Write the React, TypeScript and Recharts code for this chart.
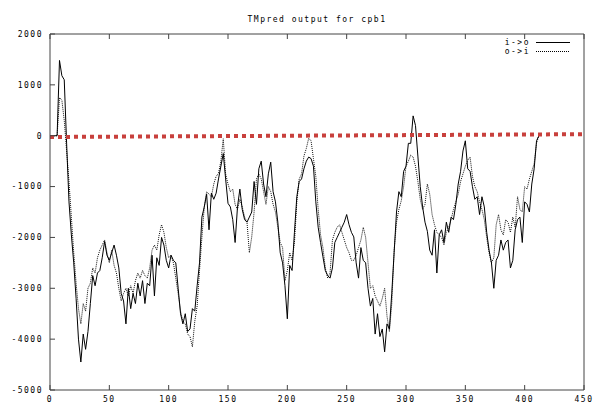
import React from 'react';
import { LineChart, Line, XAxis, YAxis, ReferenceLine } from 'recharts';

// TMpred profile, sampled every 2 residues (0..412)
const ioValues = [
  0, 0, 0, 0, 1480, 1180, 1100, -150, -1300, -1950,
  -2500, -3200, -4000, -4450, -3900, -4200, -3850, -3300, -2750, -2950,
  -2700, -2650, -2400, -2080, -2350, -2450, -2300, -2150, -2350, -2600,
  -3100, -3250, -3700, -3000, -3400, -3100, -3300, -2900, -3150, -2850,
  -3300, -2900, -2950, -2350, -3150, -2400, -2550, -2000, -2150, -2450,
  -2600, -2350, -2450, -2500, -3000, -3500, -3700, -3500, -3850, -3800,
  -3400, -3450, -2950, -2500, -1600, -1400, -1150, -1850, -1130, -1250,
  -1130, -850, -600, -350, -850, -1330, -1400, -1650, -2100, -1400,
  -1050, -1450, -1650, -1700, -1600, -1500, -900, -1350, -650, -500,
  -950, -1200, -750, -520, -1100, -1300, -1700, -2300, -2500, -2950,
  -3600, -2550, -2650, -1900, -1200, -900, -850, -650, -500, -420,
  -450, -600, -1300, -1800, -2100, -2380, -2650, -2750, -2800, -2600,
  -2100, -2000, -1900, -1800, -1700, -1550, -1750, -1900, -1990, -2500,
  -2800, -2200, -2450, -2500, -3000, -3350, -3200, -3900, -3500, -3950,
  -3800, -4250, -3700, -3800, -3100, -2300, -1500, -1100, -1200, -700,
  -600, -150, -150, 390, 200, -400, -1000, -1400, -1700, -1880,
  -2250, -2350, -1850, -2700, -1950, -1850, -2100, -1700, -1900, -1600,
  -1650, -1350, -950, -700, -300, -100, -650, -700, -1000, -1250,
  -1200, -1550, -1200, -1400, -1900, -2250, -2500, -3000, -2450, -2350,
  -2050, -2250, -2100, -2050, -2600, -2450, -1850, -1650, -1600, -2100,
  -1300, -1350, -1500, -950, -650, -100, 0,
];

const oiValues = [
  0, 0, 0, 0, 750, 700, 300, -300, -900, -1600,
  -2300, -2900, -3400, -3700, -3300, -3450, -3000, -2900, -2600, -2700,
  -2400, -2250, -2150, -2050, -2300, -2500, -2250, -2550, -2700, -3000,
  -3250, -3100, -3000, -3150, -2950, -3100, -2850, -2700, -2800, -2650,
  -2750, -2800, -2600, -2250, -2150, -2250, -1950, -1750, -1900, -2200,
  -2400, -2350, -2500, -2800, -3100, -3450, -3650, -3700, -3900, -3950,
  -4150, -3650, -3350, -2650, -2000, -1400, -1100, -1150, -1200, -950,
  -800, -740, -500, -60, -750, -950, -1100, -1050, -1350, -1450,
  -1250, -1400, -1600, -1700, -2300, -1990, -1500, -850, -750, -850,
  -1100, -1350, -1000, -1100, -1350, -1500, -1800, -2100, -2200, -2850,
  -2650, -2300, -2450, -2100, -1300, -850, -750, -400, -250, -50,
  -100, -450, -800, -1450, -1950, -2200, -2600, -2800, -2700, -2050,
  -1900, -1800, -1750, -1900, -2050, -2200, -2300, -2450, -2450, -2350,
  -2200, -2050, -1800, -2000, -2500, -3000, -2950, -3150, -3250, -3350,
  -3200, -3000, -3550, -3850, -3300, -2250, -1700, -1450, -1280, -1000,
  -600, -500, -380, -420, -600, -900, -1250, -1450, -1350, -950,
  -1150, -1550, -1750, -1900, -1950, -2000, -2150, -1900, -1800, -1650,
  -1450, -1300, -1150, -900, -750, -600, -480, -420, -800, -1000,
  -1100, -1300, -1450, -1650, -2000, -2300, -2500, -2400, -1750, -1550,
  -1850, -1950, -1650, -1700, -1900, -1600, -1800, -1200, -1450, -1500,
  -1000, -1050, -850, -700, -550, -150, 10,
];

const positions = ioValues.map((_, i) => i * 2);

const xTicks = [0, 50, 100, 150, 200, 250, 300, 350, 400, 450];
const yTicks = [-5000, -4000, -3000, -2000, -1000, 0, 1000, 2000];

// red threshold line end points
const thresholdStart = { x: 0, y: -25 };
const thresholdEnd = { x: 450, y: 30 };

const seriesInfo = [
  { key: 'io', name: 'i->o', dash: undefined },
  { key: 'oi', name: 'o->i', dash: '1 1' },
];

const data = positions.map((pos, i) => ({ pos, io: ioValues[i], oi: oiValues[i] }));

const FONT = '"DejaVu Sans Mono", monospace';
const tickStyle = { fontFamily: FONT, fontSize: 8, fill: '#000', letterSpacing: 1.5 };
const AXIS = '#444';

const LegendBox = () => (
  <div
    style={{
      position: 'absolute',
      left: 498,
      top: 38,
      fontFamily: FONT,
      fontSize: 8,
      letterSpacing: 1.5,
      color: '#000',
    }}
  >
    {seriesInfo.map((s) => (
      <div key={s.name} style={{ display: 'flex', alignItems: 'center', height: 9 }}>
        <span style={{ width: 32, textAlign: 'right', lineHeight: '9px' }}>{s.name}</span>
        <svg width={40} height={9} style={{ marginLeft: 6 }}>
          <line x1={0} x2={34} y1={4.5} y2={4.5} stroke="#000" strokeWidth={1} strokeDasharray={s.dash} />
        </svg>
      </div>
    ))}
  </div>
);

export default function App() {
  return (
    <div style={{ position: 'relative', width: 597, height: 403, background: '#fff' }}>
      <style>{'body{margin:0}'}</style>
      <div
        style={{
          position: 'absolute',
          left: 50,
          width: 534,
          top: 15,
          textAlign: 'center',
          fontFamily: FONT,
          fontSize: 8,
          letterSpacing: 1.5,
          lineHeight: '10px',
          zIndex: 2,
        }}
      >
        TMpred output for cpb1
      </div>
      <LineChart width={597} height={403} data={data} margin={{ top: 0, right: 0, bottom: 0, left: 0 }}>
        <XAxis
          xAxisId="bottom"
          dataKey="pos"
          type="number"
          domain={[0, 450]}
          ticks={xTicks}
          height={13}
          tickSize={-5}
          tickMargin={11}
          stroke={AXIS}
          tick={tickStyle}
          interval={0}
        />
        <XAxis
          xAxisId="top"
          orientation="top"
          dataKey="pos"
          type="number"
          domain={[0, 450]}
          ticks={xTicks}
          height={34}
          tickSize={-5}
          stroke={AXIS}
          tickFormatter={() => ''}
          interval={0}
        />
        <YAxis
          yAxisId="left"
          type="number"
          domain={[-5000, 2000]}
          ticks={yTicks}
          width={50}
          tickSize={-5}
          tickMargin={12}
          stroke={AXIS}
          tick={tickStyle}
          interval={0}
        />
        <YAxis
          yAxisId="right"
          orientation="right"
          type="number"
          domain={[-5000, 2000]}
          ticks={yTicks}
          width={13}
          tickSize={-5}
          stroke={AXIS}
          tickFormatter={() => ''}
          interval={0}
        />
        <Line
          xAxisId="bottom"
          yAxisId="left"
          type="linear"
          dataKey="oi"
          name="o->i"
          stroke="#111"
          strokeWidth={1}
          strokeDasharray="1 1"
          dot={false}
          isAnimationActive={false}
        />
        <Line
          xAxisId="bottom"
          yAxisId="left"
          type="linear"
          dataKey="io"
          name="i->o"
          stroke="#000"
          strokeWidth={1}
          dot={false}
          isAnimationActive={false}
        />
        <ReferenceLine
          xAxisId="bottom"
          yAxisId="left"
          segment={[thresholdStart, thresholdEnd]}
          stroke="#c8403c"
          strokeWidth={4}
          strokeDasharray="4 4"
          ifOverflow="visible"
        />
      </LineChart>
      <LegendBox />
    </div>
  );
}
